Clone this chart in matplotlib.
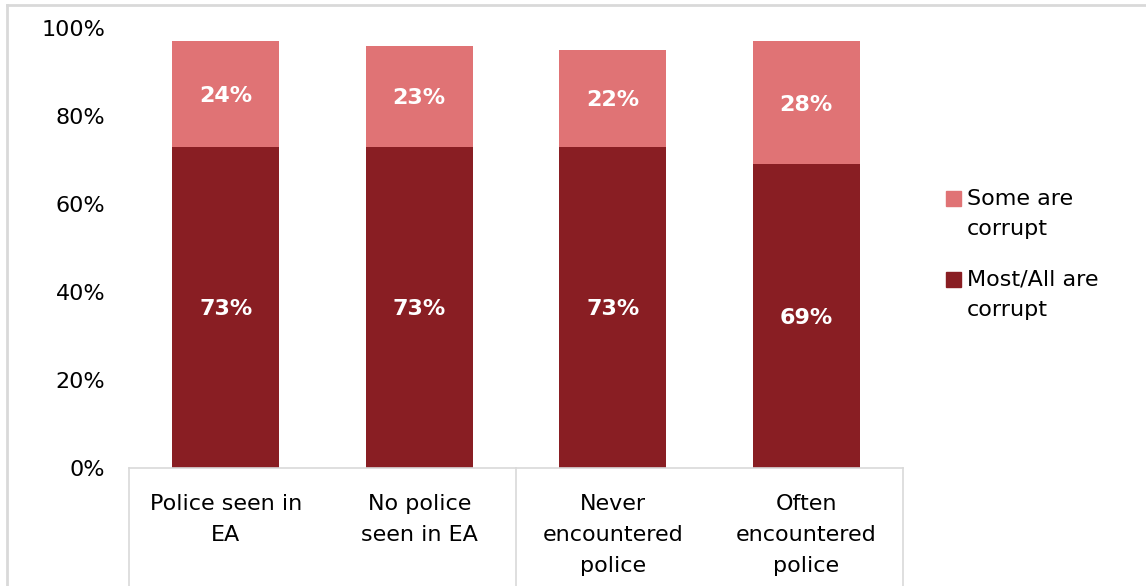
import numpy as np
import matplotlib
matplotlib.use("Agg")
import matplotlib.pyplot as plt
from matplotlib.lines import Line2D
from matplotlib.patches import Rectangle

categories = ["Police seen in\nEA", "No police\nseen in EA", "Never\nencountered\npolice", "Often\nencountered\npolice"]
most_all = [73, 73, 73, 69]
some = [24, 23, 22, 28]
yticks = [0, 20, 40, 60, 80, 100]
series_names = ["Some are\ncorrupt", "Most/All are\ncorrupt"]

dark_red = "#891E23"
light_red = "#E07375"
grid_gray = "#D9D9D9"

plt.rcParams["font.family"] = ["DejaVu Sans"]

fig = plt.figure(figsize=(11.46, 5.86), dpi=100)
W, H = 1146, 586
ax = fig.add_axes([129 / W, (H - 468) / H, (903 - 129) / W, 440 / H])

x = np.arange(len(categories))
width = 0.553
ax.bar(x, most_all, width, color=dark_red)
ax.bar(x, some, width, bottom=most_all, color=light_red)

# value labels centred in each segment
for xi, m, s in zip(x, most_all, some):
    ax.text(xi, m / 2, f"{m}%", ha="center", va="center_baseline", color="white",
            fontsize=16, fontweight="bold")
    ax.text(xi, m + s / 2, f"{s}%", ha="center", va="center_baseline", color="white",
            fontsize=16, fontweight="bold")

ax.set_xlim(-0.5, 3.5)
ax.set_ylim(0, 100)
ax.set_yticks(yticks)
ax.set_yticklabels([f"{t}%" for t in yticks])
ax.set_xticks(x)
ax.set_xticklabels(categories, linespacing=1.68)
ax.tick_params(axis="y", length=0, pad=17, labelsize=16)
ax.tick_params(axis="x", length=0, pad=19, labelsize=16)
for side in ["top", "right", "left"]:
    ax.spines[side].set_visible(False)
ax.spines["bottom"].set_color(grid_gray)
ax.spines["bottom"].set_linewidth(1.2)

# group separators on the category axis
for xs in [-0.5, 1.5, 3.5]:
    ax.add_line(Line2D([xs, xs], [0, -40], color=grid_gray, lw=1.2, clip_on=False))

# legend: square swatch beside a two-line label
for name, color, top in zip(series_names, [light_red, dark_red], [191, 272]):
    fig.add_artist(Rectangle((946 / W, 1 - (top + 15) / H), 15 / W, 15 / H,
                             color=color, transform=fig.transFigure))
    fig.text(967 / W, 1 - (top + 23) / H, name, ha="left", va="center",
             fontsize=16, linespacing=1.68)

# chart area border
fig.add_artist(Line2D([7 / W, 7 / W], [0, 1 - 5 / H], color=grid_gray, lw=2,
                      transform=fig.transFigure))
fig.add_artist(Line2D([7 / W, 1], [1 - 5 / H, 1 - 5 / H], color=grid_gray, lw=2,
                      transform=fig.transFigure))

fig.savefig("out.png", dpi=100)
